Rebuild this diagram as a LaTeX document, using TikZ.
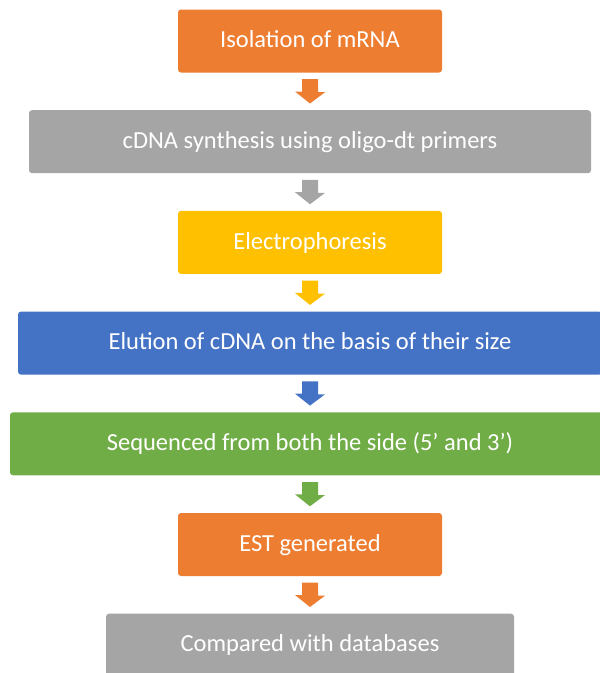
\documentclass[tikz,border=0pt]{standalone}
\usepackage{fontspec}
\setmainfont{Carlito}
\definecolor{accorange}{HTML}{ED7D31}
\definecolor{accgrey}{HTML}{A5A5A5}
\definecolor{accgold}{HTML}{FFC000}
\definecolor{accblue}{HTML}{4472C4}
\definecolor{accgreen}{HTML}{70AD47}
\tikzset{
    stepbox/.style={rounded corners=3pt, text=white, minimum height=63pt,
        inner sep=0pt, text height=18pt, text depth=4.6pt,
        font=\fontsize{24.5}{28}\selectfont}
}
\begin{document}
\begin{tikzpicture}[x=1pt,y=1pt]
            \useasboundingbox (0,0) rectangle (600,-673);
            \foreach[count=\i] \txt/\col/\boxw in {
                {Isolation of mRNA}/accorange/264,
                {cDNA synthesis using oligo-dt primers}/accgrey/562,
                {Electrophoresis}/accgold/264,
                {Elution of cDNA on the basis of their size}/accblue/584,
                {Sequenced from both the side (5’ and 3’)}/accgreen/600,
                {EST generated}/accorange/264,
                {Compared with databases}/accgrey/408} {
                \node[stepbox, fill=\col, minimum width=\boxw pt] (s-\i)
                    at (310,{-41-(\i-1)*100.7}) {\txt};
            }
            % block arrows take the colour of the box they leave
            \foreach[count=\i] \col in {accorange,accgrey,accgold,accblue,accgreen,accorange} {
                \pgfmathtruncatemacro\k{\i+1}
                \fill[\col] ([xshift=-8pt,yshift=-6.5pt]s-\i.south) -- ++(16,0)
                    -- ++(0,-13) -- ++(7,0) -- ([yshift=6.5pt]s-\k.north)
                    -- ++(-15,12) -- ++(7,0) -- cycle;
            }
        \end{tikzpicture}
\end{document}
